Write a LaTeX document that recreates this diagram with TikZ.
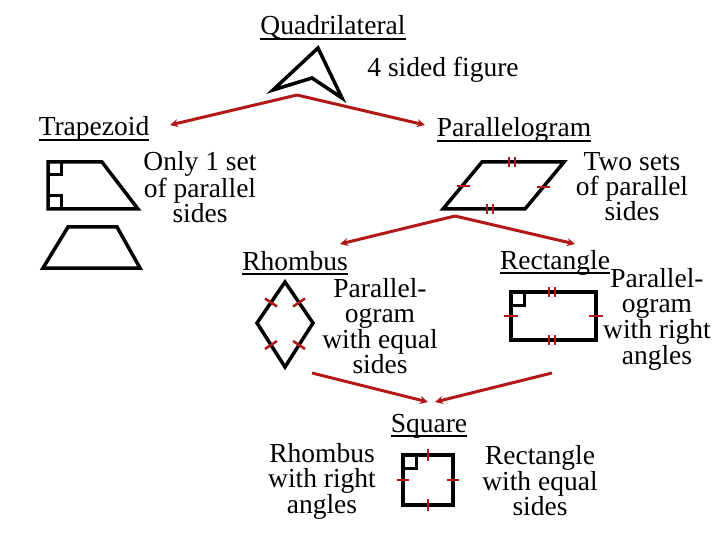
\documentclass[tikz,border=0pt]{standalone}
\usepackage{fontspec}
\setmainfont{Liberation Serif}
\usetikzlibrary{arrows.meta}
\definecolor{linkred}{RGB}{178,24,24}

\begin{document}
\begin{tikzpicture}[x=1pt,y=-1pt,
    lbl/.style={inner sep=0pt,font=\fontsize{27.5}{25}\selectfont},
    note/.style={lbl,align=center},
    uline/.style={line width=2pt},
    figline/.style={line width=3.5pt,line join=miter},
    hashmark/.style={linkred,line width=2.5pt},
    link/.style={linkred,line width=3pt,-{Stealth[length=8pt,width=8pt]}}]
  \useasboundingbox (0,0) rectangle (720,540);

  % titles and notes
  \node [lbl,anchor=base] (quad) at (333,35) {Quadrilateral};
  \node [lbl,anchor=base] (sided) at (443,77) {4 sided figure};
  \node [lbl,anchor=base] (trap) at (94,136) {Trapezoid};
  \node [lbl,anchor=base] (para) at (514,137) {Parallelogram};
  \node [note] (onlyone) at (200,187) {Only 1 set\\of parallel\\sides};
  \node [note] (twosets) at (632,187) {Two sets\\of parallel\\sides};
  \node [lbl,anchor=base] (rhom) at (295,270) {Rhombus};
  \node [lbl,anchor=base] (rect) at (555,269) {Rectangle};
  \node [note] (rhomnote) at (380,326) {Parallel-\\ogram\\with equal\\sides};
  \node [note] (rectnote) at (657,319) {Parallel-\\ogram\\with right\\angles};
  \node [lbl,anchor=base] (sq) at (429,432) {Square};
  \node [note] (sqleft) at (322,481) {Rhombus\\with right\\angles};
  \node [note] (sqright) at (540,481) {Rectangle\\with equal\\sides};
  \foreach \n in {quad,trap,para,rhom,rect,sq}
    \draw [uline] ([yshift=-4pt]\n.base west) -- ([yshift=-4pt]\n.base east);

  % quadrilateral
  \draw [figline] (318,48) -- (342,98) -- (312,78) -- (273,90) -- cycle;

  % trapezoids
  \draw [figline] (48,162) -- (102,162) -- (138,209) -- (48,209) -- cycle;
  \draw [line width=3pt] (48,175) -- (61,175) -- (61,162);
  \draw [line width=3pt] (48,196) -- (61,196) -- (61,209);
  \draw [figline] (68,227) -- (117,227) -- (140,268) -- (43,268) -- cycle;

  % parallelogram
  \draw [figline] (482,162) -- (564,162) -- (525,209) -- (443,209) -- cycle;
  \draw [hashmark] (509,157) -- (509,167) (515,157) -- (515,167);
  \draw [hashmark] (487,204) -- (487,214) (493,204) -- (493,214);
  \draw [hashmark] (457,186) -- (470,186);
  \draw [hashmark] (537,187) -- (550,187);

  % rhombus
  \draw [figline] (285,282) -- (313,323) -- (285,367) -- (257,323) -- cycle;
  \draw [hashmark] (265,298.5) -- (277,306.5);
  \draw [hashmark] (305,298.5) -- (293,306.5);
  \draw [hashmark] (265,349) -- (277,341);
  \draw [hashmark] (293,341) -- (305,349);

  % rectangle
  \draw [figline] (511,292) rectangle (596,340);
  \draw [line width=3pt] (511,305) -- (524,305) -- (524,292);
  \draw [hashmark] (549,287) -- (549,297) (555,287) -- (555,297);
  \draw [hashmark] (549,335) -- (549,345) (555,335) -- (555,345);
  \draw [hashmark] (504,316) -- (518,316);
  \draw [hashmark] (589,316) -- (603,316);

  % square
  \draw [figline] (403,455) rectangle (453,505);
  \draw [line width=3pt] (403,468) -- (416,468) -- (416,455);
  \draw [hashmark] (428,449) -- (428,461);
  \draw [hashmark] (428,499) -- (428,511);
  \draw [hashmark] (397,480) -- (409,480);
  \draw [hashmark] (447,480) -- (459,480);

  % arrows
  \coordinate (qapex) at (297,95);
  \coordinate (trapin) at (170,125);
  \coordinate (parain) at (425,125);
  \coordinate (papex) at (455,216);
  \coordinate (rhomin) at (340,244);
  \coordinate (rectin) at (575,244);
  \coordinate (rhomout) at (312,373);
  \coordinate (rectout) at (552,373);
  \coordinate (sqinl) at (428,402);
  \coordinate (sqinr) at (435,402);
  \draw [link] (qapex) -- (trapin);
  \draw [link] (qapex) -- (parain);
  \draw [link] (papex) -- (rhomin);
  \draw [link] (papex) -- (rectin);
  \draw [link] (rhomout) -- (sqinl);
  \draw [link] (rectout) -- (sqinr);
\end{tikzpicture}
\end{document}
